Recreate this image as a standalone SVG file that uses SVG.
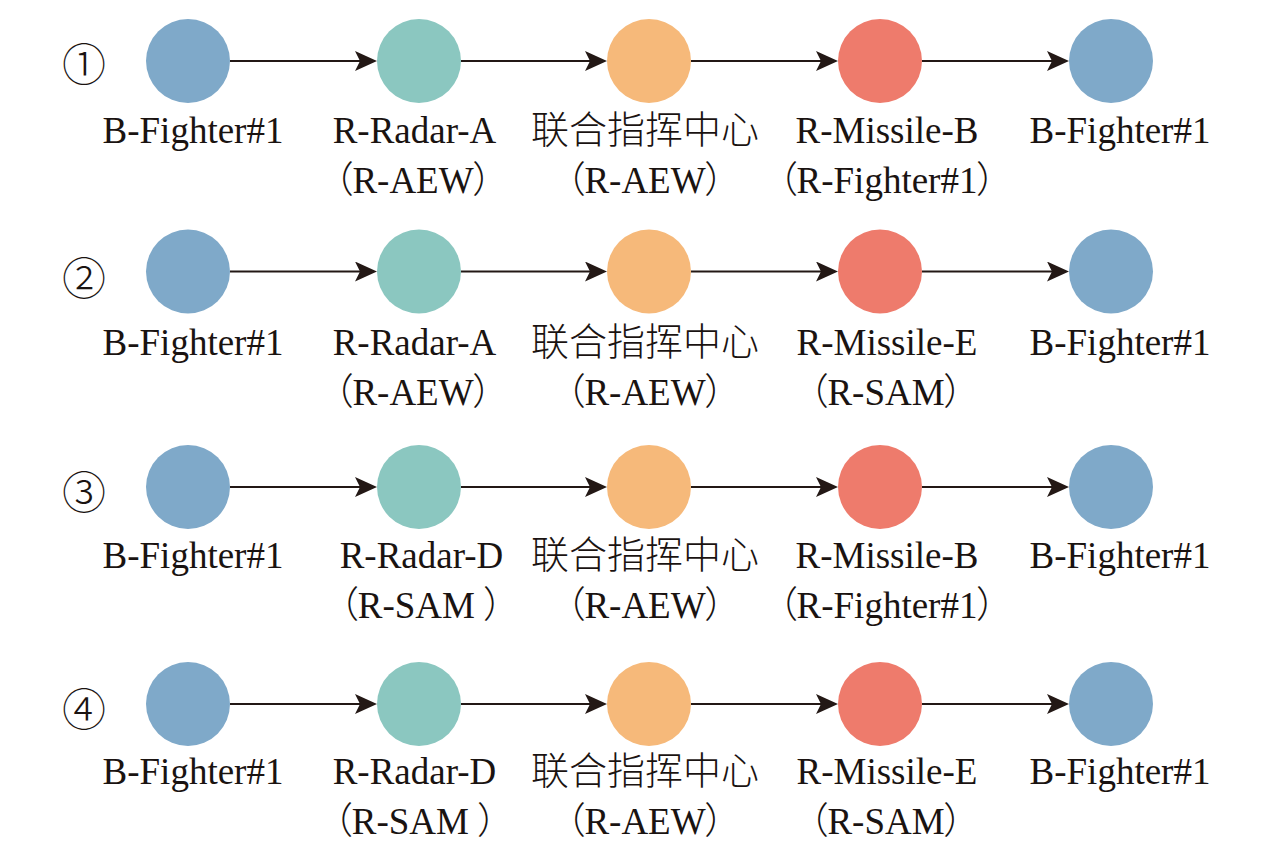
<svg xmlns="http://www.w3.org/2000/svg" width="1276" height="849" viewBox="0 0 1276 849">
<defs>
<style>
.lbl{font-family:"Liberation Serif",serif;font-size:37px;fill:#1a1311;text-anchor:middle;}
.p{font-family:"Noto Sans CJK SC",sans-serif;font-feature-settings:"palt";font-weight:300;}
.zh{font-family:"Noto Sans CJK SC",sans-serif;font-size:38px;font-weight:300;fill:#1a1311;text-anchor:middle;}
.num{font-family:"Noto Sans CJK SC","DejaVu Sans",sans-serif;font-size:44px;font-weight:300;fill:#1a1311;text-anchor:middle;dominant-baseline:central;}
.blue{fill:#7FA9C9;}
.teal{fill:#8BC7C0;}
.orange{fill:#F6B97A;}
.red{fill:#EE7B6C;}
.edge{stroke:#231815;stroke-width:2;fill:none;marker-end:url(#arr);}
</style>
<marker id="arr" markerUnits="userSpaceOnUse" viewBox="0 0 22 20" refX="12" refY="10" markerWidth="22" markerHeight="20" orient="auto">
<path d="M0,0 L22,10 L0,20 L5,10 Z" fill="#231815"/>
</marker>
</defs>
<rect width="1276" height="849" fill="#ffffff"/>

<g id="connectors">
<line class="edge" x1="230" y1="61" x2="367" y2="61"/>
<line class="edge" x1="461" y1="61" x2="597" y2="61"/>
<line class="edge" x1="691" y1="61" x2="828" y2="61"/>
<line class="edge" x1="922" y1="61" x2="1059" y2="61"/>

<line class="edge" x1="230" y1="271.5" x2="367" y2="271.5"/>
<line class="edge" x1="461" y1="271.5" x2="597" y2="271.5"/>
<line class="edge" x1="691" y1="271.5" x2="828" y2="271.5"/>
<line class="edge" x1="922" y1="271.5" x2="1059" y2="271.5"/>

<line class="edge" x1="230" y1="487" x2="367" y2="487"/>
<line class="edge" x1="461" y1="487" x2="597" y2="487"/>
<line class="edge" x1="691" y1="487" x2="828" y2="487"/>
<line class="edge" x1="922" y1="487" x2="1059" y2="487"/>

<line class="edge" x1="230" y1="704" x2="367" y2="704"/>
<line class="edge" x1="461" y1="704" x2="597" y2="704"/>
<line class="edge" x1="691" y1="704" x2="828" y2="704"/>
<line class="edge" x1="922" y1="704" x2="1059" y2="704"/>
</g>

<g id="row-numbers">
<text class="num" x="84" y="62">①</text>
<text class="num" x="84" y="276">②</text>
<text class="num" x="84" y="490">③</text>
<text class="num" x="84" y="707">④</text>
</g>

<!-- Row 1 -->
<g id="r1-n1"><circle class="blue" cx="188" cy="61" r="42"/><text class="lbl" x="193" y="143">B-Fighter#1</text></g>
<g id="r1-n2"><circle class="teal" cx="419" cy="61" r="42"/><text class="lbl" x="414.5" y="143">R-Radar-A</text><text class="lbl" x="413" y="193"><tspan class="p">（</tspan>R-AEW<tspan class="p">）</tspan></text></g>
<g id="r1-n3"><circle class="orange" cx="649" cy="61" r="42"/><text class="zh" x="645" y="143">联合指挥中心</text><text class="lbl" x="645" y="193"><tspan class="p">（</tspan>R-AEW<tspan class="p">）</tspan></text></g>
<g id="r1-n4"><circle class="red" cx="880" cy="61" r="42"/><text class="lbl" x="887" y="143">R-Missile-B</text><text class="lbl" x="887" y="193"><tspan class="p">（</tspan>R-Fighter#1<tspan class="p">）</tspan></text></g>
<g id="r1-n5"><circle class="blue" cx="1111" cy="61" r="42"/><text class="lbl" x="1120" y="143">B-Fighter#1</text></g>

<!-- Row 2 -->
<g id="r2-n1"><circle class="blue" cx="188" cy="271.5" r="42"/><text class="lbl" x="193" y="355">B-Fighter#1</text></g>
<g id="r2-n2"><circle class="teal" cx="419" cy="271.5" r="42"/><text class="lbl" x="414.5" y="355">R-Radar-A</text><text class="lbl" x="413" y="405"><tspan class="p">（</tspan>R-AEW<tspan class="p">）</tspan></text></g>
<g id="r2-n3"><circle class="orange" cx="649" cy="271.5" r="42"/><text class="zh" x="645" y="355">联合指挥中心</text><text class="lbl" x="645" y="405"><tspan class="p">（</tspan>R-AEW<tspan class="p">）</tspan></text></g>
<g id="r2-n4"><circle class="red" cx="880" cy="271.5" r="42"/><text class="lbl" x="887" y="355">R-Missile-E</text><text class="lbl" x="886" y="405"><tspan class="p">（</tspan>R-SAM<tspan class="p">）</tspan></text></g>
<g id="r2-n5"><circle class="blue" cx="1111" cy="271.5" r="42"/><text class="lbl" x="1120" y="355">B-Fighter#1</text></g>

<!-- Row 3 -->
<g id="r3-n1"><circle class="blue" cx="188" cy="487" r="42"/><text class="lbl" x="193" y="568">B-Fighter#1</text></g>
<g id="r3-n2"><circle class="teal" cx="419" cy="487" r="42"/><text class="lbl" x="421.5" y="568">R-Radar-D</text><text class="lbl" x="421" y="618"><tspan class="p">（</tspan>R-SAM <tspan class="p">）</tspan></text></g>
<g id="r3-n3"><circle class="orange" cx="649" cy="487" r="42"/><text class="zh" x="645" y="568">联合指挥中心</text><text class="lbl" x="645" y="618"><tspan class="p">（</tspan>R-AEW<tspan class="p">）</tspan></text></g>
<g id="r3-n4"><circle class="red" cx="880" cy="487" r="42"/><text class="lbl" x="887" y="568">R-Missile-B</text><text class="lbl" x="887" y="618"><tspan class="p">（</tspan>R-Fighter#1<tspan class="p">）</tspan></text></g>
<g id="r3-n5"><circle class="blue" cx="1111" cy="487" r="42"/><text class="lbl" x="1120" y="568">B-Fighter#1</text></g>

<!-- Row 4 -->
<g id="r4-n1"><circle class="blue" cx="188" cy="704" r="42"/><text class="lbl" x="193" y="784">B-Fighter#1</text></g>
<g id="r4-n2"><circle class="teal" cx="419" cy="704" r="42"/><text class="lbl" x="414.5" y="784">R-Radar-D</text><text class="lbl" x="415" y="834"><tspan class="p">（</tspan>R-SAM <tspan class="p">）</tspan></text></g>
<g id="r4-n3"><circle class="orange" cx="649" cy="704" r="42"/><text class="zh" x="645" y="784">联合指挥中心</text><text class="lbl" x="645" y="834"><tspan class="p">（</tspan>R-AEW<tspan class="p">）</tspan></text></g>
<g id="r4-n4"><circle class="red" cx="880" cy="704" r="42"/><text class="lbl" x="887" y="784">R-Missile-E</text><text class="lbl" x="886" y="834"><tspan class="p">（</tspan>R-SAM<tspan class="p">）</tspan></text></g>
<g id="r4-n5"><circle class="blue" cx="1111" cy="704" r="42"/><text class="lbl" x="1120" y="784">B-Fighter#1</text></g>
</svg>
